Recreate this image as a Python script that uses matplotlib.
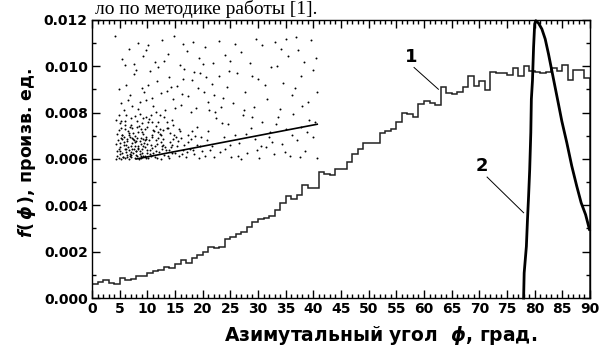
import numpy as np
import matplotlib
matplotlib.use('Agg')
import matplotlib.pyplot as plt
from matplotlib.ticker import MultipleLocator, FormatStrFormatter

plt.rcParams['font.family'] = ['DejaVu Sans']
plt.rcParams['mathtext.fontset'] = 'dejavusans'

# histogram (curve 1), one bin per degree, 0..90
edges = np.arange(0, 91, 1)
hist1 = [0.00061, 0.00071, 0.00076, 0.00065, 0.00060, 0.00086, 0.00078, 0.00080, 0.00097, 0.00097,
         0.00107, 0.00117, 0.00123, 0.00133, 0.00130, 0.00145, 0.00164, 0.00152, 0.00172, 0.00186,
         0.00199, 0.00222, 0.00216, 0.00222, 0.00254, 0.00262, 0.00276, 0.00286, 0.00305, 0.00328,
         0.00342, 0.00347, 0.00355, 0.00378, 0.00408, 0.00442, 0.00428, 0.00445, 0.00486, 0.00474,
         0.00474, 0.00543, 0.00536, 0.00530, 0.00557, 0.00557, 0.00586, 0.00621, 0.00643, 0.00671,
         0.00671, 0.00668, 0.00714, 0.00722, 0.00729, 0.00758, 0.00800, 0.00793, 0.00782, 0.00837,
         0.00849, 0.00841, 0.00832, 0.00909, 0.00885, 0.00880, 0.00890, 0.00910, 0.00957, 0.00914,
         0.00936, 0.00896, 0.00976, 0.00971, 0.00971, 0.00964, 0.00993, 0.00957, 0.01000, 0.00980,
         0.00974, 0.00971, 0.00975, 0.00993, 0.00979, 0.01007, 0.00943, 0.00986, 0.00986, 0.00950]

# curve 2 (thick line)
phi2 = [78.0, 78.1, 78.5, 78.7, 78.9, 79.1, 79.3, 79.4, 79.6, 79.8, 80.0, 80.2, 80.7, 81.3,
        81.9, 82.5, 83.1, 83.7, 84.3, 84.9, 85.8, 86.7, 87.6, 88.4, 89.2, 89.9]
f2 = [0.0, 0.00108, 0.00223, 0.00339, 0.00440, 0.00555, 0.00714, 0.00858, 0.00938, 0.01082,
      0.01183, 0.01197, 0.01186, 0.01161, 0.01118, 0.01053, 0.00981, 0.00909, 0.00837, 0.00764,
      0.00671, 0.00570, 0.00483, 0.00411, 0.00360, 0.00296]

# scatter inset points (deg, value x 1e-3)
sc_x = [4.3, 4.8, 5.2, 5.6, 6.0, 6.3, 6.7, 7.1, 7.4, 7.8, 8.2, 8.5, 8.9, 9.3, 9.7,
        4.5, 5.0, 5.4, 5.9, 6.2, 6.6, 7.0, 7.3, 7.7, 8.0, 8.4, 8.8, 9.1, 9.5, 9.9,
        4.7, 5.3, 5.8, 6.4, 6.9, 7.5, 8.1, 8.6, 9.2, 9.8,
        5.1, 5.7, 6.1, 6.8, 7.2, 7.9, 8.3, 8.7, 9.4, 9.6,
        4.9, 6.5, 7.6, 8.0, 9.0, 5.5, 7.0, 8.9, 6.3, 4.4,
        4.6, 5.2, 5.9, 6.5, 7.1, 7.8, 8.4, 9.0, 9.6, 10.3, 10.9, 11.5, 12.2, 12.8, 13.5, 14.1, 14.7,
        4.4, 5.5, 6.2, 6.8, 7.4, 8.1, 8.7, 9.3, 10.0, 10.6, 11.2, 11.9, 12.5, 13.1, 13.8, 14.4,
        5.0, 7.0, 8.9, 10.8, 12.0, 4.8, 6.0, 9.8,
        10.1, 10.5, 10.9, 11.3, 11.7, 12.1, 12.5, 12.9, 13.3, 13.7, 14.1, 14.5, 14.9, 15.3, 15.7,
        16.1, 16.5, 16.9, 17.3, 17.7, 18.1, 18.5, 18.9, 19.3, 19.7,
        10.3, 11.0, 11.6, 12.3, 13.0, 13.6, 14.3, 15.0, 15.8, 16.6, 17.4, 18.2, 19.0, 19.8,
        10.7, 12.7, 14.7, 16.3, 17.9, 19.5, 11.9, 13.9, 15.5, 17.1, 18.7,
        5.3, 6.1, 6.8, 7.5, 8.3, 9.0, 9.7, 10.4, 11.1, 11.8, 12.5, 13.2, 13.9, 14.6, 15.3, 16.0,
        16.7, 17.4, 18.1, 18.8, 19.5, 20.2, 20.9, 21.6, 22.3, 23.0, 23.7, 24.4,
        4.9, 5.8, 7.2, 8.0, 9.4, 10.8, 12.0, 13.5, 15.0, 16.4, 17.8, 19.2, 20.6, 22.0, 23.4, 24.8,
        6.5, 8.7, 10.1, 11.5, 14.2, 16.2, 18.5, 21.2,
        20.4, 21.0, 21.7, 22.4, 23.1, 23.8, 24.5, 25.2, 25.9, 26.6, 27.3, 28.0, 28.7, 29.4, 30.1,
        30.8, 31.5, 32.2, 32.9, 33.6, 34.3, 35.0, 35.7, 36.4, 37.1, 37.8, 38.5, 39.2, 39.9, 40.6,
        20.8, 22.0, 23.5, 25.0, 26.3, 27.8, 29.0, 30.5, 31.9, 33.2, 34.8, 36.1, 37.5, 38.9, 40.3,
        21.4, 24.1, 26.9, 29.8, 32.6,
        25.5, 26.2, 27.0, 27.7, 28.5, 29.2, 30.0, 30.8, 31.6, 32.3, 33.1, 33.9, 34.6, 35.4, 36.2,
        36.9, 37.7, 38.4, 39.1, 39.9, 40.5, 40.7,
        25.9, 27.4, 29.6, 31.2, 33.5, 35.0, 36.6, 38.0, 39.5, 34.2, 28.9, 37.3,
        4.2, 5.5, 6.6, 7.6, 8.4, 9.2, 10.2, 11.4, 12.6, 13.7, 14.8, 15.9, 17.1, 18.3, 19.4, 20.5,
        21.8, 22.9, 24.0, 24.9, 6.0, 9.8, 13.1, 16.5, 20.0,
        4.6, 5.1, 5.6, 6.2, 6.9, 7.3, 7.9, 8.6, 9.2, 9.9, 10.4, 11.1, 11.8, 12.4, 13.2, 13.9,
        4.8, 5.4, 6.0, 6.7, 7.2, 7.8, 8.5, 9.1, 9.7, 10.2, 10.8, 11.5, 12.2, 12.9,
        5.0, 5.7, 6.4, 7.0, 7.7, 8.3, 8.9, 9.5, 10.6, 11.3, 12.6, 14.4, 15.2, 15.9,
        5.3, 6.6, 7.4, 8.1, 9.3, 10.0]
sc_y = [6.02, 6.05, 6.01, 6.10, 6.03, 6.18, 6.02, 6.08, 6.25, 6.04, 6.12, 6.01, 6.06, 6.15, 6.03,
        6.35, 6.52, 6.28, 6.45, 6.62, 6.38, 6.55, 6.41, 6.72, 6.33, 6.48, 6.65, 6.27, 6.50, 6.38,
        6.80, 6.92, 6.75, 6.88, 6.96, 6.83, 6.91, 6.78, 6.86, 6.95,
        6.20, 6.60, 6.30, 6.22, 6.68, 6.18, 6.58, 6.36, 6.70, 6.12,
        6.42, 6.50, 6.45, 6.78, 6.44, 6.85, 6.30, 6.92, 6.08, 6.66,
        7.10, 7.35, 7.62, 7.20, 7.48, 7.85, 7.15, 7.55, 7.30, 7.72, 7.05, 7.42, 7.88, 7.25, 7.60, 7.12, 7.45,
        7.70, 7.05, 7.92, 7.38, 7.12, 7.65, 7.95, 7.08, 7.40, 7.90, 7.22, 7.58, 7.02, 7.80, 7.35, 7.68,
        7.55, 7.75, 7.28, 7.58, 7.15, 7.90, 7.30, 7.82,
        6.05, 6.22, 6.48, 6.10, 6.65, 6.30, 6.02, 6.85, 6.40, 6.15, 6.72, 6.28, 7.05, 6.55, 6.12,
        6.90, 6.38, 6.08, 6.75, 6.45, 7.20, 6.22, 6.62, 6.05, 6.95,
        6.80, 7.25, 6.35, 7.10, 6.18, 7.35, 6.50, 6.25, 7.30, 6.60, 7.05, 6.40, 7.40, 6.35,
        6.60, 6.55, 6.85, 6.20, 6.88, 6.58, 6.92, 6.05, 6.78, 6.30, 6.98,
        8.40, 9.20, 8.75, 9.65, 8.15, 9.05, 8.55, 9.80, 8.30, 9.35, 8.85, 8.10, 9.55, 8.60, 9.15, 8.35,
        9.90, 8.70, 9.40, 8.20, 9.70, 8.90, 8.45, 9.25, 8.05, 9.60, 8.65, 9.10,
        9.00, 8.10, 8.30, 9.85, 8.90, 8.65, 9.95, 8.95, 8.20, 9.45, 8.05, 9.05, 9.55, 8.75, 8.25, 9.80,
        8.55, 8.45, 9.20, 8.05, 9.10, 8.80, 9.75, 8.10,
        6.15, 7.20, 6.55, 7.75, 6.30, 6.95, 7.50, 6.10, 7.05, 6.70, 7.90, 6.25, 7.35, 6.85, 6.05,
        7.60, 6.50, 7.15, 6.20, 7.80, 6.65, 7.30, 6.12, 7.95, 6.80, 7.40, 6.35, 7.70, 6.95, 6.05,
        6.80, 6.10, 7.55, 6.60, 6.15, 7.10, 7.80, 6.55, 6.95, 7.50, 6.30, 7.05, 6.08, 7.15, 7.60,
        6.40, 6.45, 6.02, 6.40, 6.75,
        8.40, 9.70, 10.60, 8.90, 10.15, 8.25, 9.45, 10.90, 8.60, 9.95, 11.05, 8.15, 9.30, 10.45, 8.75,
        11.25, 9.60, 10.20, 8.45, 9.85, 10.35, 8.90,
        10.95, 8.10, 11.20, 9.20, 10.00, 11.20, 9.05, 8.30, 11.15, 10.75, 9.60, 10.70,
        11.30, 10.30, 10.75, 10.10, 11.00, 10.45, 10.90, 10.20, 11.15, 10.55, 11.30, 10.05, 10.65, 11.05,
        10.35, 10.85, 10.15, 11.10, 10.50, 10.25, 10.05, 10.70, 10.25, 10.95, 10.10,
        6.14, 6.33, 6.07, 6.44, 6.13, 6.91, 6.36, 6.22, 6.57, 6.64, 6.40, 6.27, 6.03, 6.74, 6.52, 6.37,
        7.25, 7.05, 7.48, 7.02, 7.33, 6.98, 7.42, 7.15, 6.88, 7.58, 6.96, 6.82, 7.30, 6.62,
        6.70, 6.96, 6.76, 6.19, 6.58, 6.45, 6.11, 6.84, 6.15, 6.55, 6.45, 6.60, 6.95, 7.20,
        7.62, 7.12, 6.88, 7.36, 7.75, 6.25]

# trend line inside the scatter
fit_x = [8.0, 40.7]
fit_y = [0.00600, 0.00750]

fig = plt.figure(figsize=(5.99, 3.47), dpi=100)
ax = fig.add_axes([0.1536, 0.1412, 0.8314, 0.8012])

ax.scatter(sc_x, np.array(sc_y) * 1e-3, s=2.0, color='black', linewidths=0)
ax.plot(fit_x, fit_y, color='black', lw=1.2)

ax.stairs(hist1, edges, color='#222222', lw=1.1)
ax.plot(phi2, f2, color='black', lw=2.0, clip_on=False)

ax.set_xlim(0, 90)
ax.set_ylim(0, 0.012)
ax.xaxis.set_major_locator(MultipleLocator(5))
ax.xaxis.set_minor_locator(MultipleLocator(1))
ax.yaxis.set_major_locator(MultipleLocator(0.002))
ax.yaxis.set_minor_locator(MultipleLocator(0.001))
ax.yaxis.set_major_formatter(FormatStrFormatter('%.3f'))
ax.tick_params(which='both', direction='in', top=True, right=True, width=1)
ax.tick_params(which='major', length=6, labelsize=10, pad=3)
ax.tick_params(which='minor', length=3)
for lab in ax.get_xticklabels() + ax.get_yticklabels():
    lab.set_fontweight('bold')
for s in ax.spines.values():
    s.set_linewidth(1.0)

# curve labels with pointer lines
ax.text(57.7, 0.01040, '1', fontsize=13, fontweight='bold', ha='center', va='center')
ax.plot([58.2, 62.6], [0.00995, 0.00901], color='black', lw=0.7)
ax.text(70.5, 0.00570, '2', fontsize=13, fontweight='bold', ha='center', va='center')
ax.plot([71.4, 78.0], [0.00522, 0.00368], color='black', lw=0.7)

# axis titles
fig.text(381 / 599, 1 - 341 / 347, 'Азимутальный угол  $\\boldsymbol{\\phi}$, град.', fontsize=13.5,
         fontweight='bold', ha='center', va='baseline')
fig.text(27 / 599, 1 - 153 / 347, r'$\boldsymbol{f(\,\phi\,)}$, произв. ед.', rotation=90,
         fontsize=12.5, fontweight='bold', ha='center', va='center')

# fragment of the document text above the chart
fig.text(95 / 599, 1 - 14.5 / 347, 'ло по методике работы [1].', fontsize=14,
         family='Liberation Serif', ha='left', va='baseline')

fig.savefig('out.png', dpi=100)
